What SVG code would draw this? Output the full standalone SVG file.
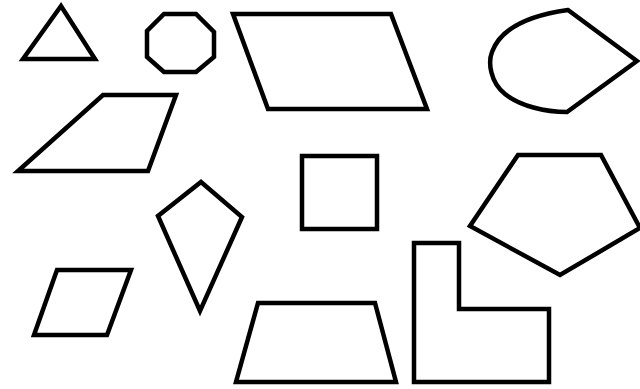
<svg xmlns="http://www.w3.org/2000/svg" width="640" height="389" viewBox="0 0 640 389">
<style>
.s{fill:none;stroke:#000;stroke-width:4.5;stroke-linejoin:miter}
</style>
<rect width="640" height="389" fill="#fff"/>
<g id="triangle"><polygon class="s" points="61,6 23,59 95,59"/></g>
<g id="octagon"><polygon class="s" points="164,14 196,14 214,32 214,57 196,72 164,72 147,57 147,31"/></g>
<g id="parallelogram-top"><polygon class="s" points="233,14 391,14 427,109 268,109"/></g>
<g id="blob"><path class="s" d="M568,10 L637,61 L567,112 C545,112 520,106 505,94 C490,82 488,62 492,52 C500,30 525,16 568,10 Z"/></g>
<g id="parallelogram-left"><polygon class="s" points="103,95 176,95 148,171 18,171"/></g>
<g id="square"><rect class="s" x="302" y="156" width="75" height="73"/></g>
<g id="pentagon"><polygon class="s" points="518,155 601,155 640,228 560,275 470,226"/></g>
<g id="kite"><polygon class="s" points="201,182 242,217 200,311 158,216"/></g>
<g id="rhombus"><polygon class="s" points="57,270 131,270 107,335 34,335"/></g>
<g id="trapezoid"><polygon class="s" points="258,303 375,303 396,382 236,382"/></g>
<g id="l-shape"><polygon class="s" points="414,243 459,243 459,309 549,309 549,382 414,382"/></g>
</svg>
